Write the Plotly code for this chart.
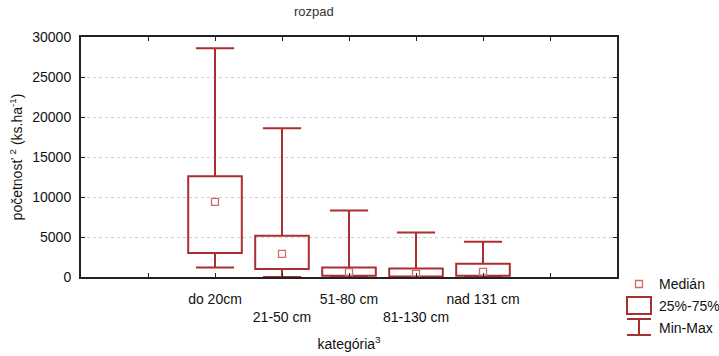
import plotly.graph_objects as go

# ---- data ----
categories = ["", "do 20cm", "21-50 cm", "51-80 cm", "81-130 cm", "nad 131 cm", ""]
positions = [1, 2, 3, 4, 5, 6, 7]
box_cats = ["do 20cm", "21-50 cm", "51-80 cm", "81-130 cm", "nad 131 cm"]
box_pos = [2, 3, 4, 5, 6]
mins = [1200, 0, 0, 0, 0]
q1 = [3000, 1000, 150, 50, 150]
medians = [9400, 2900, 600, 400, 650]
q3 = [12600, 5150, 1200, 1050, 1650]
maxs = [28600, 18600, 8300, 5550, 4400]
y_ticks = [0, 5000, 10000, 15000, 20000, 25000, 30000]

BOX_W = 0.8
CAP_W = 0.57
RED = "#ab2f2f"
MED = "#d46a6a"
FONT = "Liberation Sans, Arial, sans-serif"

fig = go.Figure()

# boxes (25%-75%)
fig.add_trace(go.Bar(
    x=box_pos, y=[b - a for a, b in zip(q1, q3)], base=q1, width=BOX_W,
    marker=dict(color="rgba(255,255,255,0)", line=dict(color=RED, width=2)),
    showlegend=False, hoverinfo="skip"))

# whiskers (Min-Max)
wx, wy = [], []
for p, lo, a, b, hi in zip(box_pos, mins, q1, q3, maxs):
    wx += [p, p, None, p, p, None, p - CAP_W / 2, p + CAP_W / 2, None, p - CAP_W / 2, p + CAP_W / 2, None]
    wy += [b, hi, None, a, lo, None, hi, hi, None, lo, lo, None]
fig.add_trace(go.Scatter(x=wx, y=wy, mode="lines", line=dict(color=RED, width=2),
                         showlegend=False, hoverinfo="skip"))

# medians
fig.add_trace(go.Scatter(x=box_pos, y=medians, mode="markers",
                         marker=dict(symbol="square-open", size=7, color=MED, line=dict(width=1.3, color=MED)),
                         showlegend=False))

ticktext = []
for i, c in enumerate(categories):
    ticktext.append(("<br>" + c) if i % 2 == 0 and c else c)

L, R, T, B = 81, 102, 37, 79
W, H = 719, 356
PW, PH = W - L - R, H - T - B


def px(xp):
    return (xp - L) / PW


def py(yp):
    return (H - B - yp) / PH


fig.update_layout(
    width=W, height=H,
    margin=dict(l=L, r=R, t=T, b=B),
    plot_bgcolor="white", paper_bgcolor="white",
    font=dict(family=FONT, size=14, color="#111"),
    showlegend=False,
    xaxis=dict(range=[0, 8], tickvals=positions, ticktext=ticktext, tickangle=0,
               automargin=False,
               ticks="inside", ticklen=4, tickcolor="#222", mirror="ticks",
               showline=True, linecolor="#222", linewidth=2, showgrid=False,
               ticklabelstandoff=8, tickfont=dict(size=14),
               title=dict(text="kategória<sup>3</sup>", standoff=15, font=dict(size=14))),
    yaxis=dict(range=[0, 30000], tickvals=y_ticks, ticktext=[str(v) for v in y_ticks],
               automargin=False,
               ticks="inside", ticklen=4, tickcolor="#222", mirror="ticks",
               showline=True, linecolor="#222", linewidth=2,
               showgrid=True, gridcolor="#cfcfcf", griddash="dot", gridwidth=1,
               zeroline=False, tickfont=dict(size=14), ticklabelstandoff=5,
               title=dict(text="početnosť <sup>2</sup> (ks.ha<sup>-1</sup>)", standoff=6, font=dict(size=14))),
)

# title (partly cut at top in the reference)
fig.add_annotation(text="rozpad", xref="paper", yref="paper", x=px(314), y=py(21),
                   xanchor="center", yanchor="bottom", showarrow=False,
                   font=dict(size=13, color="#333"))

# custom legend
fig.add_shape(type="rect", xref="paper", yref="paper",
              x0=px(635.5), x1=px(642.5), y0=py(287.5), y1=py(280.5),
              line=dict(color=MED, width=1.3))
fig.add_shape(type="rect", xref="paper", yref="paper",
              x0=px(627), x1=px(651), y0=py(314), y1=py(297),
              line=dict(color=RED, width=2))
for (x0, y0, x1, y1) in [(627, 319, 651, 319), (639, 319, 639, 335), (627, 335, 651, 335)]:
    fig.add_shape(type="line", xref="paper", yref="paper",
                  x0=px(x0), y0=py(y0), x1=px(x1), y1=py(y1),
                  line=dict(color=RED, width=2))
for label, yc in [("Medián", 284), ("25%-75%", 306), ("Min-Max", 328)]:
    fig.add_annotation(text=label, xref="paper", yref="paper", x=px(657), y=py(yc),
                       xanchor="left", yanchor="middle", showarrow=False,
                       font=dict(size=14, color="#111"))

fig.write_html("out.html", config={"displayModeBar": False},
               post_script="document.body.style.margin='0';document.body.style.overflow='hidden';")
